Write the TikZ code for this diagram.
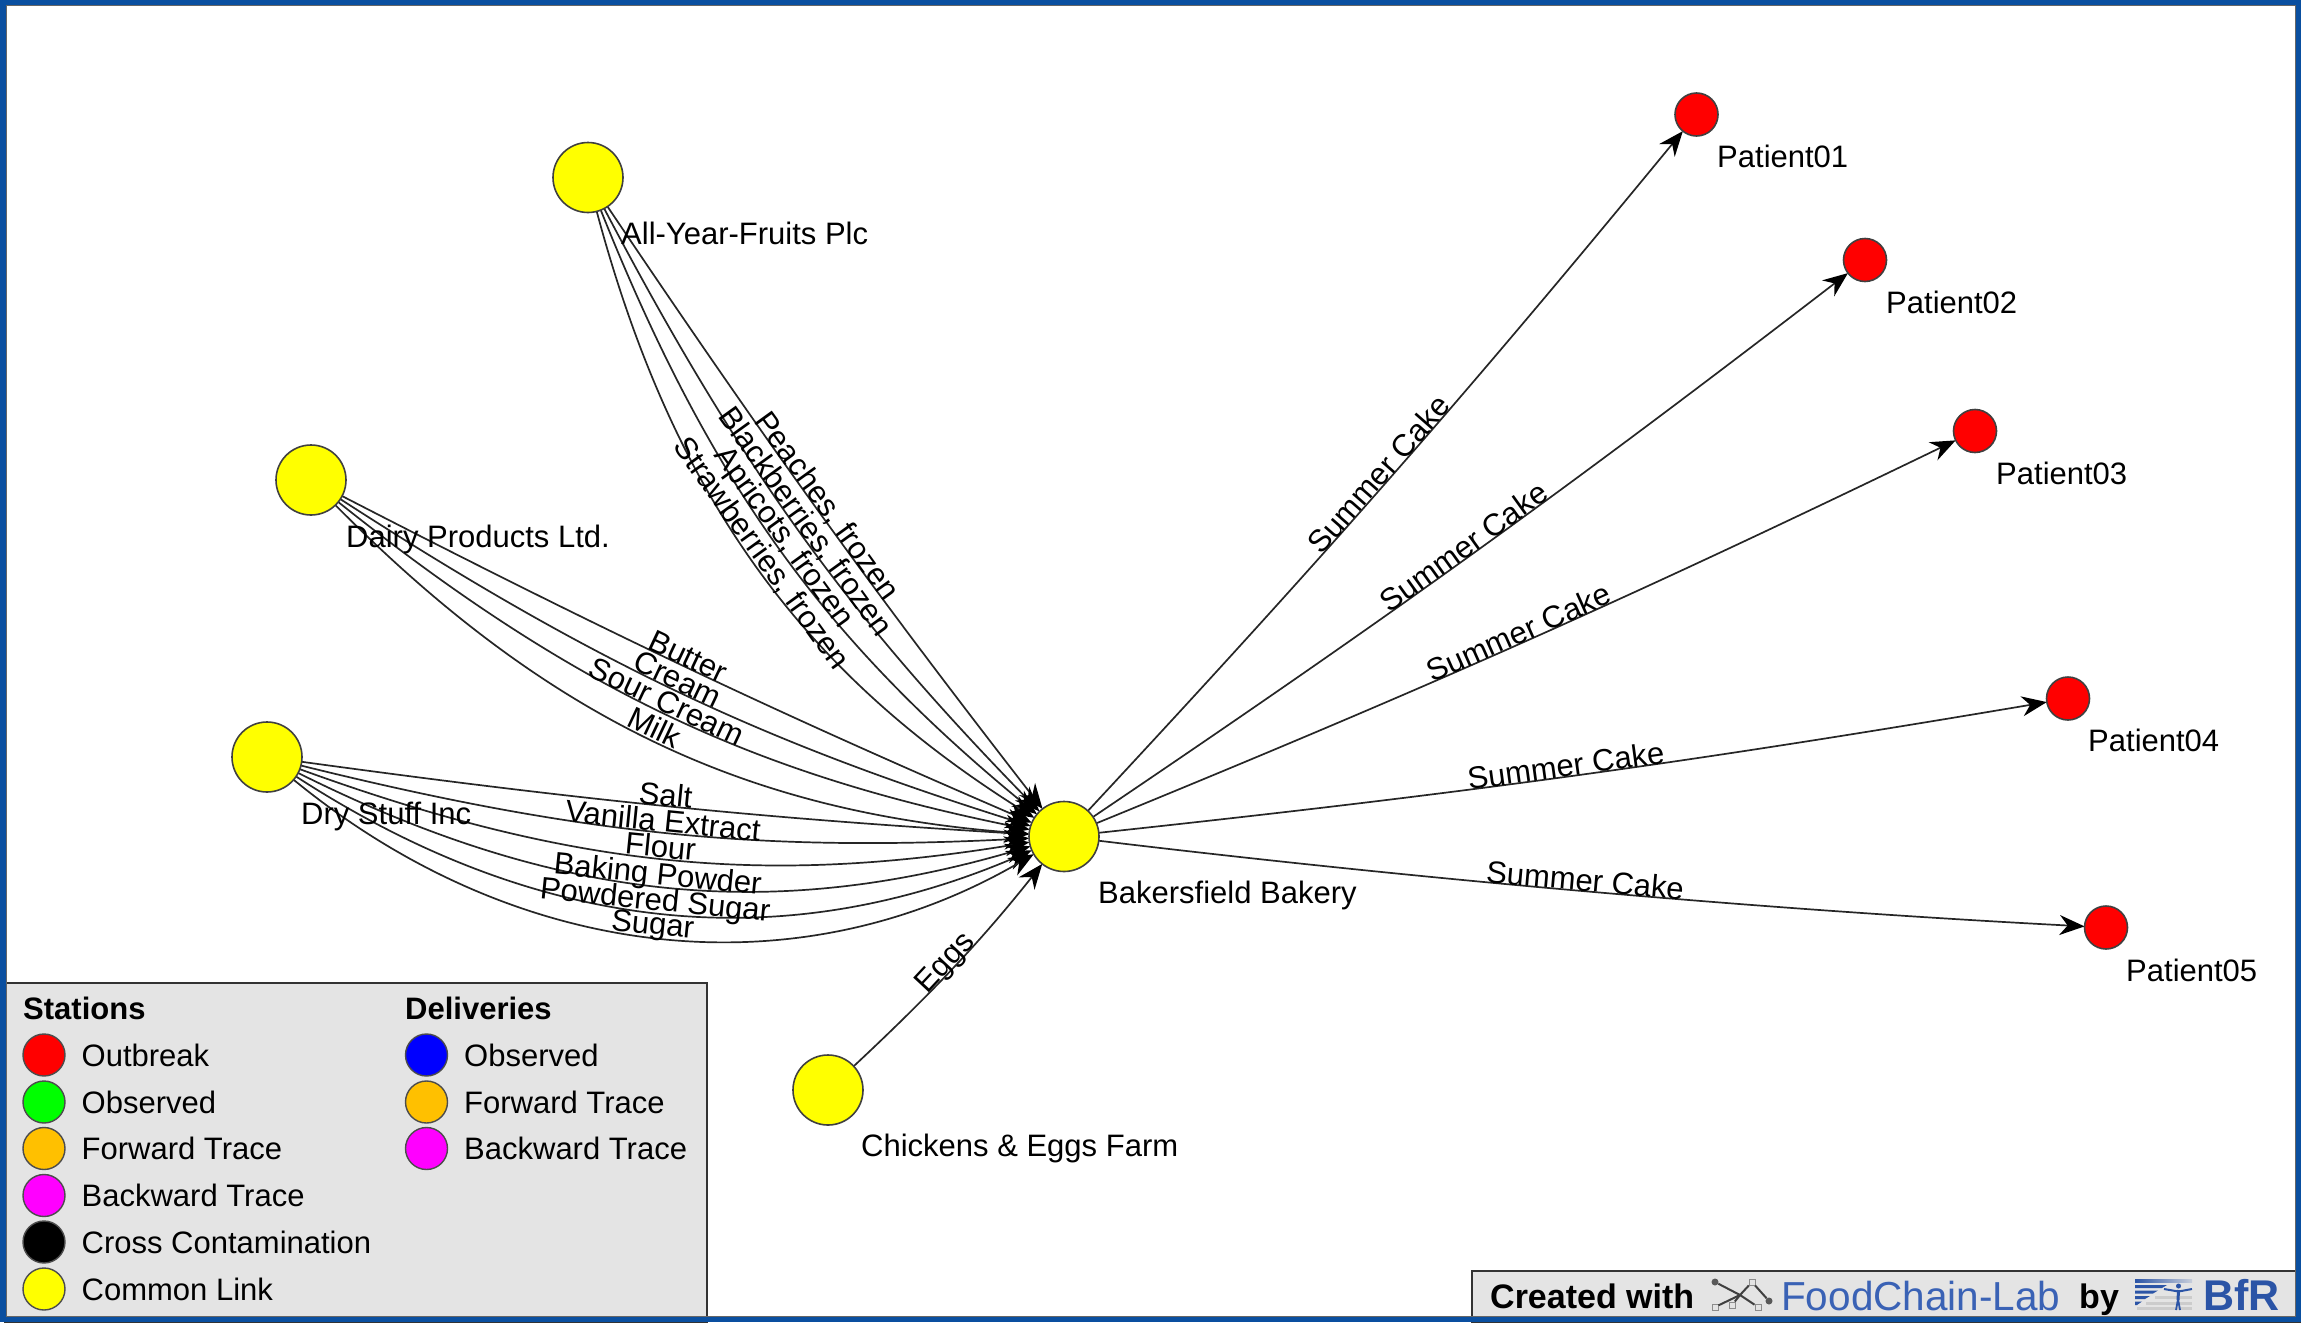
\documentclass[tikz,border=0pt]{standalone}
\usepackage{fontspec}
\setmainfont{Liberation Sans}
\usetikzlibrary{arrows.meta,backgrounds,calc}
\definecolor{frameblue}{HTML}{0A4FA0}
\definecolor{panel}{HTML}{E4E4E4}
\definecolor{fcl}{HTML}{3A62B5}
\definecolor{bfr}{HTML}{2B54A6}
\definecolor{cred}{RGB}{255,0,0}
\definecolor{cgreen}{RGB}{0,255,0}
\definecolor{cblue}{RGB}{0,0,255}
\definecolor{cyellow}{RGB}{255,255,0}
\definecolor{cmag}{RGB}{255,0,255}
\definecolor{corange}{RGB}{255,192,0}
\tikzset{
  station/.style={circle,draw=black!75,line width=1.6pt,fill=cyellow,inner sep=0pt,minimum size=70pt},
  patient/.style={circle,draw=black!75,line width=1.6pt,fill=cred,inner sep=0pt,minimum size=43pt},
  edgeline/.style={draw=black!85,line width=1.7pt,-{Stealth[length=25pt,width=20pt,black]}},
  tobig/.style={edgeline,shorten >=35pt},
  tosmall/.style={edgeline,shorten >=21.5pt},
  elabel/.style={midway,anchor=base,inner sep=0pt,font=\fontsize{31}{36}\selectfont,text=black},
  nlabel/.style={anchor=base west,inner sep=0pt,font=\fontsize{31}{36}\selectfont,text=black},
  legdot/.style={circle,draw=black!70,line width=1.4pt,inner sep=0pt,minimum size=42pt},
  legtext/.style={anchor=base west,inner sep=0pt,font=\fontsize{31}{36}\selectfont,text=black},
  legtitle/.style={anchor=base west,inner sep=0pt,font=\fontsize{31}{36}\selectfont\bfseries,text=black},
  iconlink/.style={draw=black!75,line width=2pt},
  iconbox/.style={draw=black!45,line width=1pt,fill=panel,inner sep=0pt,minimum size=6pt},
  icondark/.style={circle,fill=black!65,inner sep=0pt,minimum size=7pt}
}
\begin{document}
\begin{tikzpicture}[x=1pt,y=-1pt]
\useasboundingbox (0,0) rectangle (2301,1322);
% stations
\node[station] (ay) at (588,177.5) {};
\node[station] (dp) at (311,480) {};
\node[station] (ds) at (267,757) {};
\node[station] (bb) at (1064,836.5) {};
\node[station] (ce) at (828,1090) {};
\node[patient] (p1) at (1696.5,114.5) {};
\node[patient] (p2) at (1865,260) {};
\node[patient] (p3) at (1975,431) {};
\node[patient] (p4) at (2068,698.5) {};
\node[patient] (p5) at (2106,927.5) {};
% station labels
\node[nlabel] (lay) at (621,244) {All-Year-Fruits Plc};
\node[nlabel] (ldp) at (346,547) {Dairy Products Ltd.};
\node[nlabel] (lds) at (301,824) {Dry Stuff Inc};
\node[nlabel] (lbb) at (1098,903) {Bakersfield Bakery};
\node[nlabel] (lce) at (861,1156) {Chickens \& Eggs Farm};
\node[nlabel] (lp1) at (1717,167) {Patient01};
\node[nlabel] (lp2) at (1886,313) {Patient02};
\node[nlabel] (lp3) at (1996,484) {Patient03};
\node[nlabel] (lp4) at (2088,751) {Patient04};
\node[nlabel] (lp5) at (2126,981) {Patient05};
\begin{scope}[on background layer]
\fill[white] (0,0) rectangle (2301,1322);
% All-Year-Fruits
\draw[tobig] (ay.center) to[bend right=2] node[elabel,rotate=-54.2] {Peaches, frozen} (bb.center);
\draw[tobig] (ay.center) to[bend right=8.5] node[elabel,rotate=-54.2] {Blackberries, frozen} (bb.center);
\draw[tobig] (ay.center) to[bend right=14.8] node[elabel,rotate=-54.2] {Apricots, frozen} (bb.center);
\draw[tobig] (ay.center) to[bend right=22] node[elabel,rotate=-54.2] {Strawberries, frozen} (bb.center);
% Dairy
\draw[tobig] (dp.center) to[bend right=2] node[elabel,rotate=-25.3] {Butter} (bb.center);
\draw[tobig] (dp.center) to[bend right=7.9] node[elabel,rotate=-25.3] {Cream} (bb.center);
\draw[tobig] (dp.center) to[bend right=13.9] node[elabel,rotate=-25.3] {Sour Cream} (bb.center);
\draw[tobig] (dp.center) to[bend right=21] node[elabel,rotate=-25.3] {Milk} (bb.center);
% Dry Stuff
\draw[tobig] (ds.center) to[bend right=2.2] node[elabel,rotate=-5.7] {Salt} (bb.center);
\draw[tobig] (ds.center) to[bend right=8.6] node[elabel,rotate=-5.7] {Vanilla Extract} (bb.center);
\draw[tobig] (ds.center) to[bend right=15] node[elabel,rotate=-5.7] {Flour} (bb.center);
\draw[tobig] (ds.center) to[bend right=22] node[elabel,rotate=-5.7] {Baking Powder} (bb.center);
\draw[tobig] (ds.center) to[bend right=29] node[elabel,rotate=-5.7] {Powdered Sugar} (bb.center);
\draw[tobig] (ds.center) to[bend right=36] node[elabel,rotate=-5.7] {Sugar} (bb.center);
% Eggs
\draw[tobig] (ce.center) to[bend right=4.5] node[elabel,rotate=47] {Eggs} (bb.center);
% Patients
\draw[tosmall] (bb.center) to[bend right=1.8] node[elabel,rotate=48.8] {Summer Cake} (p1.center);
\draw[tosmall] (bb.center) to[bend right=1.8] node[elabel,rotate=35.7] {Summer Cake} (p2.center);
\draw[tosmall] (bb.center) to[bend right=1.8] node[elabel,rotate=24] {Summer Cake} (p3.center);
\draw[tosmall] (bb.center) to[bend right=1.75] node[elabel,rotate=7.8] {Summer Cake} (p4.center);
\draw[tosmall] (bb.center) .. controls ($(bb.center)!0.33!(p5.center)+(-1,12)$) and ($(bb.center)!0.67!(p5.center)+(-1,12)$) .. node[elabel,rotate=-5] {Summer Cake} (p5.center);
\end{scope}
% legend
\draw[fill=panel,draw=black!80,line width=2pt] (5,983) rectangle (707,1322);
\node[legtitle] (t1) at (23,1019) {Stations};
\node[legtitle] (t2) at (405,1019) {Deliveries};
\node[legdot,fill=cred] (s1) at (44,1055) {};
\node[legdot,fill=cgreen] (s2) at (44,1102) {};
\node[legdot,fill=corange] (s3) at (44,1148.5) {};
\node[legdot,fill=cmag] (s4) at (44,1195.5) {};
\node[legdot,fill=black] (s5) at (44,1242) {};
\node[legdot,fill=cyellow] (s6) at (44,1289) {};
\node[legtext] at (81.5,1066) {Outbreak};
\node[legtext] at (81.5,1113) {Observed};
\node[legtext] at (81.5,1159.5) {Forward Trace};
\node[legtext] at (81.5,1206.5) {Backward Trace};
\node[legtext] at (81.5,1253) {Cross Contamination};
\node[legtext] at (81.5,1300) {Common Link};
\node[legdot,fill=cblue] (d1) at (426.5,1055) {};
\node[legdot,fill=corange] (d2) at (426.5,1102) {};
\node[legdot,fill=cmag] (d3) at (426.5,1148.5) {};
\node[legtext] at (464,1066) {Observed};
\node[legtext] at (464,1113) {Forward Trace};
\node[legtext] at (464,1159.5) {Backward Trace};
% attribution
\draw[fill=panel,draw=black!80,line width=2pt] (1472,1271) rectangle (2301,1322);
\node[legtitle,font=\fontsize{34}{36}\selectfont\bfseries] at (1490,1308) {Created with};
\node[legtext,font=\fontsize{40.5}{44}\selectfont,text=fcl] at (1781,1310) {FoodChain-Lab};
\node[legtitle,font=\fontsize{34}{36}\selectfont\bfseries] at (2079,1308) {by};
\node[legtitle,font=\fontsize{43}{46}\selectfont\bfseries,text=bfr] at (2203,1310) {BfR};
% FoodChain-Lab icon
\coordinate (ic) at (1740,1295);
\node[icondark] (i1) at (1715,1282) {};
\node[icondark] (i2) at (1769,1301) {};
\node[iconbox] (i3) at (1715,1307) {};
\node[iconbox] (i4) at (1732,1305) {};
\node[iconbox] (i5) at (1758,1307) {};
\node[iconbox] (i6) at (1752,1282) {};
\draw[iconlink] (i1) -- (ic);
\draw[iconlink] (i3) -- (ic);
\draw[iconlink] (i4) -- (ic);
\draw[iconlink] (i5) -- (ic);
\draw[iconlink] (i6) -- (ic);
\draw[iconlink] (i6) -- (i2);
% BfR logo
\fill[left color=bfr,right color=bfr!15!panel] (2135,1279) rectangle (2192,1282.5);
\fill[bfr] (2135,1285) -- (2167,1285) -- (2162,1288) -- (2135,1288) -- cycle;
\fill[bfr] (2135,1290.5) -- (2158,1290.5) -- (2153,1293.5) -- (2135,1293.5) -- cycle;
\fill[bfr] (2135,1296) -- (2150,1296) -- (2145,1299) -- (2135,1299) -- cycle;
\fill[bfr] (2135,1301.5) -- (2142,1301.5) -- (2137,1305) -- (2135,1305) -- cycle;
\fill[black!20] (2155,1296) rectangle (2192,1299);
\fill[black!20] (2146,1301.5) rectangle (2192,1305);
\fill[black!20] (2137,1307) rectangle (2192,1310);
\fill[bfr] (2178.5,1286) circle (2.5);
\draw[bfr,line width=2pt] (2164,1289) -- (2178.5,1291.5) -- (2192,1289);
\draw[bfr,line width=3pt] (2178.5,1290) -- (2178,1300);
\draw[bfr,line width=1.8pt] (2178,1299) -- (2176,1310);
\draw[bfr,line width=1.8pt] (2178,1299) -- (2180,1310);
% window frame
\draw[frameblue,line width=5.5pt] (2.75,2.75) rectangle (2298.25,1319.25);
\draw[black!60,line width=1pt] (6,6) rectangle (2295,1316);
\end{tikzpicture}
\end{document}
